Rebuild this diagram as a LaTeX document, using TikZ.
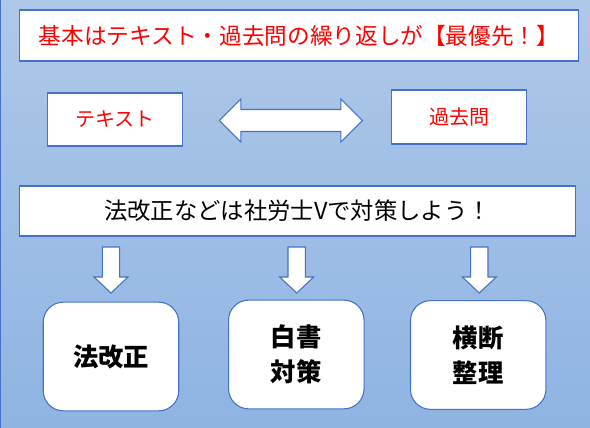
\documentclass[tikz,border=0pt]{standalone}
\usepackage{fontspec}
\newfontfamily\jp{Noto Sans CJK JP}
\usetikzlibrary{positioning}
\definecolor{edgeblue}{HTML}{4472C4}
\definecolor{bgtop}{HTML}{AEC8E8}
\definecolor{bgbot}{HTML}{8FB4E2}
\tikzset{
  plainbox/.style={draw=edgeblue, fill=white, line width=0.8pt, inner sep=0pt},
  roundbox/.style={plainbox, rounded corners=15pt, align=center, minimum width=101.6pt, minimum height=81.5pt,
    font=\jp\bfseries\fontsize{19}{26.25}\selectfont},
  blockarrow/.style={draw=edgeblue, fill=white, line width=0.8pt, line join=miter}
}

\begin{document}
\begin{tikzpicture}[x=0.75pt,y=-0.75pt]
\useasboundingbox (0,0) rectangle (590,428);
\shade[top color=bgtop, bottom color=bgbot] (0,0) rectangle (590,428);
\draw[edgeblue, line width=1pt] (0.5,0) -- (0.5,428);
% top message
\node[plainbox, minimum width=419pt, minimum height=38.25pt, text=red, font=\jp\fontsize{17}{20}\selectfont]
  (title) at (299,35.5) {基本はテキスト・過去問の繰り返しが【最優先！】};
% text and past exams
\node[plainbox, minimum width=101.6pt, minimum height=39.75pt, text=red, font=\jp\fontsize{15}{18}\selectfont]
  (text) at (114.8,119.5) {テキスト};
\node[plainbox, minimum width=101.6pt, minimum height=40.5pt, text=red, font=\jp\fontsize{15}{18}\selectfont]
  (past) at (459,117) {過去問};
\draw[blockarrow] (219.4,120.5) -- (240.8,99) -- (240.8,109.5) -- (340.9,109.5) -- (340.9,99) -- (362.4,120.5)
  -- (340.9,142) -- (340.9,131.5) -- (240.8,131.5) -- (240.8,142) -- cycle;
% second message
\node[plainbox, minimum width=417pt, minimum height=37.5pt, font=\jp\fontsize{17.5}{20}\selectfont]
  (law) at (297.6,211) {法改正などは社労士Vで対策しよう！};
\foreach \x in {111,296.7,479.3}
  \draw[blockarrow] ({\x-8.7},247) -- ({\x+8.7},247) -- ({\x+8.7},277) -- ({\x+17},277) -- (\x,293)
    -- ({\x-17},277) -- ({\x-8.7},277) -- cycle;
% three topics
\node[roundbox] (rev) at (111,356.5) {法改正};
\node[roundbox] (white) at (296.3,354.5) {白書\\対策};
\node[roundbox] (cross) at (478.2,355) {横断\\整理};
\end{tikzpicture}
\end{document}
